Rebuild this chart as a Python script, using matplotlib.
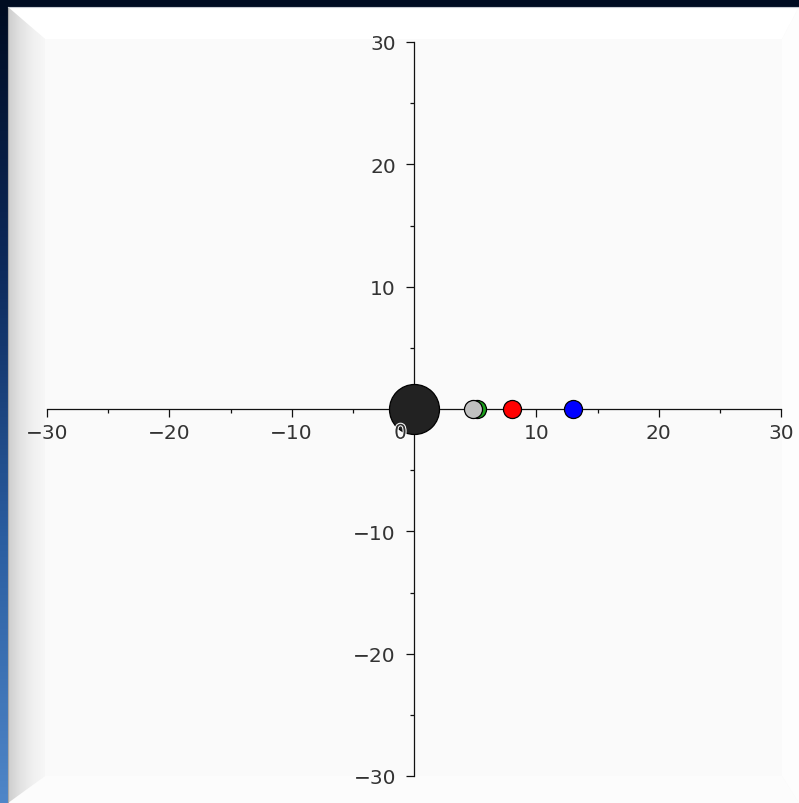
import numpy as np
import matplotlib
matplotlib.use('Agg')
import matplotlib.pyplot as plt
import matplotlib.patheffects as pe
from matplotlib.patches import Polygon, Rectangle

# --- data ---
body_names = ['Sun', 'Venus', 'Mercury', 'Earth', 'Mars']
body_x = [0.0, 5.15, 4.8, 8.0, 13.0]
body_y = [0.0, 0.0, 0.0, 0.0, 0.0]
body_colors = ['#222222', '#1aa01a', '#c0c0c0', '#ff0000', '#0000ff']
body_sizes = [36, 13, 13, 13, 13]   # marker size in points

major_ticks = [-30, -20, -10, 0, 10, 20, 30]
minor_ticks = [-25, -15, -5, 5, 15, 25]
axis_lim = (-30, 30)

W, H = 799, 804
fig = plt.figure(figsize=(W / 100, H / 100), dpi=100)
fig.patch.set_facecolor('#000c22')

# --- background: dark frame, blue left strip, bevelled white panel ---
bg = fig.add_axes([0, 0, 1, 1])
bg.set_xlim(0, W)
bg.set_ylim(H, 0)
bg.axis('off')

strip = np.linspace(0, 1, 256).reshape(-1, 1)
blue = matplotlib.colors.LinearSegmentedColormap.from_list(
    'strip', ['#000c22', '#0d2a5c', '#2a5da0', '#4f86c8'])
bg.imshow(strip, cmap=blue, extent=(0, 8, H, 8), aspect='auto', zorder=1)

bg.add_patch(Rectangle((8, 8), W - 8, H - 8, fc='#f8f8f8', ec='none', zorder=1.5))
bg.add_patch(Polygon([(8, 8), (W, 8), (782, 40), (45, 40)], closed=True,
                     fc='#ffffff', ec='none', zorder=2))
bg.add_patch(Polygon([(W, 8), (782, 40), (782, 777), (W, H)], closed=True,
                     fc='#fdfdfd', ec='none', zorder=2))
bg.add_patch(Polygon([(8, H), (45, 777), (782, 777), (W, H)], closed=True,
                     fc='#fcfcfc', ec='none', zorder=2))
left_bevel = Polygon([(8, 8), (45, 40), (45, 777), (8, H)], closed=True,
                     fc='none', ec='none', zorder=2)
bg.add_patch(left_bevel)
grad = np.linspace(0, 1, 256).reshape(1, -1)
gray = matplotlib.colors.LinearSegmentedColormap.from_list(
    'bevel', ['#cdcdcd', '#e2e2e2', '#f0f0f0', '#f7f7f7'])
im = bg.imshow(grad, cmap=gray, extent=(8, 45, H, 8), aspect='auto', zorder=2)
im.set_clip_path(left_bevel)
bg.add_patch(Polygon([(45, 40), (782, 40), (782, 777), (45, 777)], closed=True,
                     fc='#fafafa', ec='none', zorder=2.5))
bg.plot([8, 8], [8, H], color='#a8a8a8', lw=0.8, zorder=3)
bg.plot([8, W], [8, 8], color='#c8ccd4', lw=0.8, zorder=3)

# --- main axes, crossing at the origin ---
ax = fig.add_axes([47 / W, 27 / H, 734 / W, 734 / H])
ax.set_facecolor('none')
ax.set_xlim(*axis_lim)
ax.set_ylim(*axis_lim)

for side in ['top', 'right']:
    ax.spines[side].set_visible(False)
for side in ['left', 'bottom']:
    ax.spines[side].set_position('zero')
    ax.spines[side].set_linewidth(0.9)
    ax.spines[side].set_color('#111111')

ax.set_xticks(major_ticks)
ax.set_yticks(major_ticks)
ax.set_xticks(minor_ticks, minor=True)
ax.set_yticks(minor_ticks, minor=True)
ax.set_xticklabels(['' if t == 0 else str(t).replace('-', '\u2212') for t in major_ticks])
ax.set_yticklabels(['' if t == 0 else str(t).replace('-', '\u2212') for t in major_ticks])
ax.tick_params(which='major', direction='out', length=6, width=0.9,
               color='#111111', labelsize=14.5, labelcolor='#333333')
ax.tick_params(which='minor', direction='out', length=3, width=0.9, color='#111111')
ax.tick_params(axis='x', which='major', pad=4)
ax.tick_params(axis='y', which='major', pad=7)

for x, y, c, s in zip(body_x, body_y, body_colors, body_sizes):
    ax.plot(x, y, marker='o', ms=s, mfc=c, mec='#000000', mew=0.9,
            ls='none', zorder=5, clip_on=False)

ax.text(-1.1, -1.2, '0', ha='center', va='top', fontsize=14.5, color='#333333',
        zorder=6, path_effects=[pe.withStroke(linewidth=1.5, foreground='white')])

fig.savefig('out.png', dpi=100, facecolor=fig.get_facecolor())
